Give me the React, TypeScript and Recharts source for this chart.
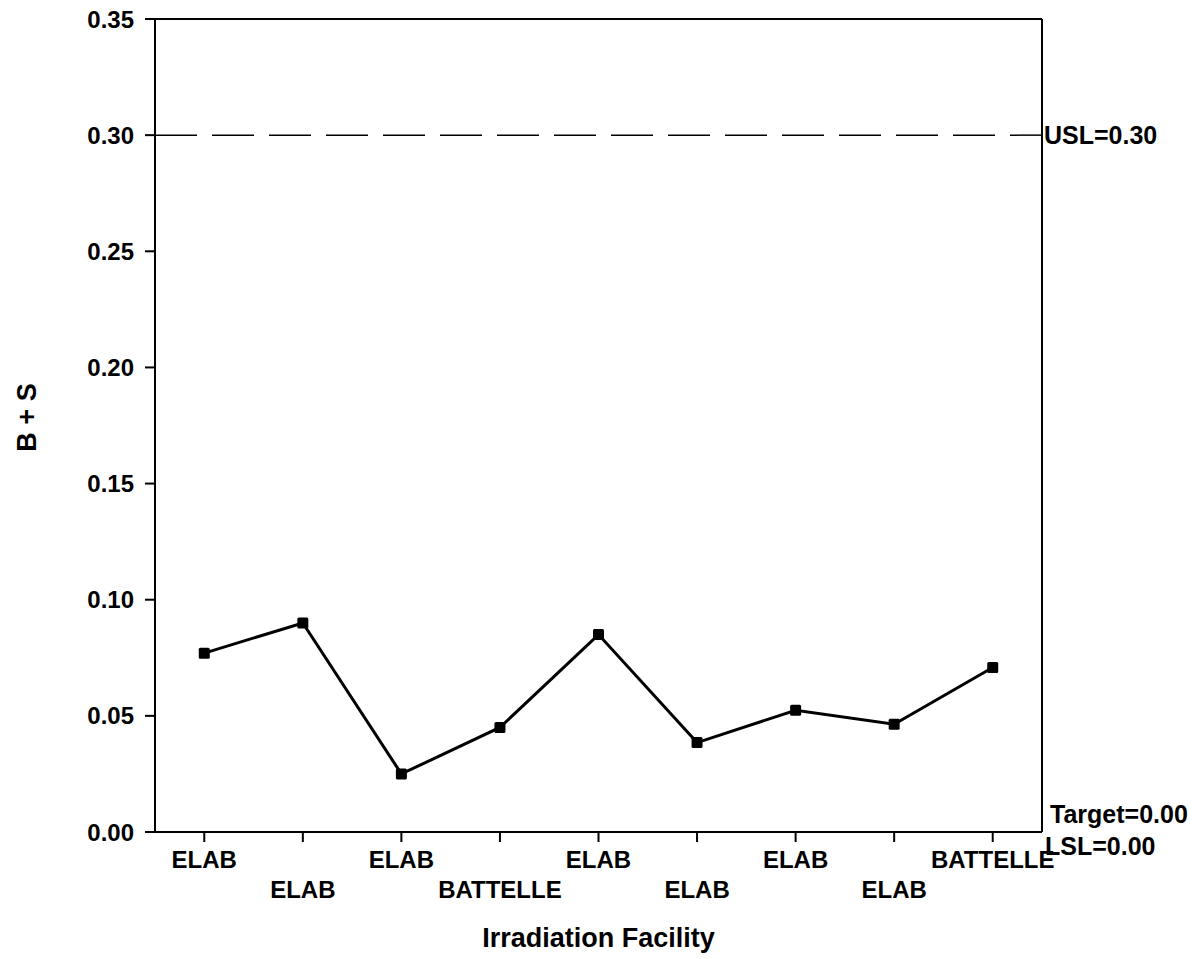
import React from 'react';
import { LineChart, Line, XAxis, YAxis, ReferenceLine } from 'recharts';

const facilities = ['ELAB', 'ELAB', 'ELAB', 'BATTELLE', 'ELAB', 'ELAB', 'ELAB', 'ELAB', 'BATTELLE'];
const bPlusS = [0.077, 0.09, 0.025, 0.045, 0.085, 0.0385, 0.0524, 0.0464, 0.0708];
const yTicks = [0, 0.05, 0.1, 0.15, 0.2, 0.25, 0.3, 0.35];
const usl = 0.3;
const target = 0;
const lsl = 0;

const data = facilities.map((f, i) => ({ idx: i + 1, facility: f, value: bPlusS[i] }));
const xTicks = data.map((d) => d.idx);

const FONT = '"Liberation Sans", Arial, sans-serif';

const SquareDot = (props: any) => {
  const { cx, cy } = props;
  if (cx == null || cy == null) return null;
  return <rect x={cx - 5.5} y={cy - 5.5} width={11} height={11} rx={1.5} fill="#000" />;
};

const FacilityTick = (props: any) => {
  const { x, y, payload } = props;
  const i = payload.value - 1;
  const lower = i % 2 === 1;
  return (
    <text
      x={x}
      y={y + (lower ? 54 : 24)}
      textAnchor="middle"
      fontFamily={FONT}
      fontWeight="bold"
      fontSize={24}
      fill="#000"
    >
      {facilities[i]}
    </text>
  );
};

const SpecLabels = (props: any) => {
  const { viewBox } = props;
  const rx = viewBox.x + viewBox.width;
  const y = viewBox.y;
  return (
    <g fontFamily={FONT} fontWeight="bold" fontSize={25} fill="#000">
      <text x={rx + 8} y={y - 9}>{`Target=${target.toFixed(2)}`}</text>
      <text x={rx + 3} y={y + 23}>{`LSL=${lsl.toFixed(2)}`}</text>
    </g>
  );
};

const UslLabel = (props: any) => {
  const { viewBox } = props;
  return (
    <text
      x={viewBox.x + viewBox.width + 2}
      y={viewBox.y}
      dy="0.36em"
      fontFamily={FONT}
      fontWeight="bold"
      fontSize={25}
      fill="#000"
    >
      {`USL=${usl.toFixed(2)}`}
    </text>
  );
};

const YTitle = (props: any) => {
  const { viewBox } = props;
  const cy = viewBox.y + viewBox.height / 2 - 8;
  return (
    <text
      x={27}
      y={cy}
      transform={`rotate(-90, 27, ${cy})`}
      textAnchor="middle"
      dominantBaseline="central"
      fontFamily={FONT}
      fontWeight="bold"
      fontSize={27}
      fill="#000"
    >
      B + S
    </text>
  );
};

export default function App() {
  return (
    <div style={{ position: 'absolute', left: 0, top: 0, background: '#fff' }}>
      <LineChart
        width={1192}
        height={959}
        data={data}
        margin={{ top: 19, right: 150, bottom: 0, left: 0 }}
      >
        <XAxis
          type="number"
          dataKey="idx"
          domain={[0.5, 9.5]}
          ticks={xTicks}
          height={127}
          stroke="#000"
          strokeWidth={2}
          tickSize={10}
          tickMargin={2}
          tick={<FacilityTick />}
          label={{
            value: 'Irradiation Facility',
            position: 'insideBottom',
            offset: 12,
            fontFamily: FONT,
            fontWeight: 'bold',
            fontSize: 27,
            fill: '#000',
          }}
        />
        <YAxis
          type="number"
          domain={[0, 0.35]}
          ticks={yTicks}
          width={155}
          stroke="#000"
          strokeWidth={2}
          tickSize={10}
          tickMargin={11}
          tickFormatter={(v: number) => v.toFixed(2)}
          tick={{ fontFamily: FONT, fontWeight: 'bold', fontSize: 24, fill: '#000' }}
          label={<YTitle />}
        />
        <ReferenceLine y={0.35} stroke="#000" strokeWidth={2} />
        <ReferenceLine x={9.5} stroke="#000" strokeWidth={2} />
        <ReferenceLine y={usl} stroke="#000" strokeWidth={1.5} strokeDasharray="42 15" label={<UslLabel />} />
        <ReferenceLine y={target} stroke="none" label={<SpecLabels />} />
        <Line
          type="linear"
          dataKey="value"
          stroke="#000"
          strokeWidth={3}
          dot={<SquareDot />}
          activeDot={false}
          isAnimationActive={false}
        />
      </LineChart>
    </div>
  );
}
